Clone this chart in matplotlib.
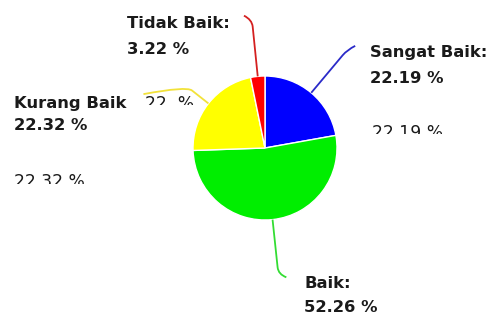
import numpy as np
import matplotlib
matplotlib.use("Agg")
import matplotlib.pyplot as plt
from matplotlib.path import Path
from matplotlib.patches import PathPatch
from matplotlib.transforms import Bbox, TransformedBbox

labels = ["Sangat Baik", "Baik", "Kurang Baik", "Tidak Baik"]
persen = [22.19, 52.26, 22.32, 3.22]
warna = ["#0000ff", "#00ee00", "#ffff00", "#ff0000"]
warna_garis = ["#2a2ac8", "#33dd33", "#f2e23a", "#d42020"]

W, H = 492, 317
cx, cy, r = 265, 148, 72   # pixel, y downward

fig = plt.figure(figsize=(W / 100, H / 100), dpi=100)
ax = fig.add_axes([0, 0, 1, 1])

wedges, _ = ax.pie(persen, colors=warna, startangle=90, counterclock=False,
                   center=(cx, H - cy), radius=r,
                   wedgeprops=dict(edgecolor="white", linewidth=1))
ax.set_xlim(0, W)
ax.set_ylim(0, H)
ax.set_aspect("auto")
ax.axis("off")


def py(y):
    return H - y


# connector: extension past the rim, then hook (dx, dy in pixels, y down)
garis = {
    "Sangat Baik": (56, (8, -4)),
    "Baik": (55, (8, 3)),
    "Kurang Baik": (28, (-43, 8)),
    "Tidak Baik": (57, (-8, -4)),
}

for w, lab, c in zip(wedges, labels, warna_garis):
    mid = np.deg2rad((w.theta1 + w.theta2) / 2)
    ux, uy = np.cos(mid), -np.sin(mid)
    ext, (hx, hy) = garis[lab]
    p0 = (cx + r * ux, cy + r * uy)
    el = (cx + (r + ext) * ux, cy + (r + ext) * uy)
    a = (el[0] - 7 * ux, el[1] - 7 * uy)
    end = (el[0] + hx, el[1] + hy)
    verts = [(p0[0], py(p0[1])), (a[0], py(a[1])), (el[0], py(el[1])), (end[0], py(end[1]))]
    codes = [Path.MOVETO, Path.LINETO, Path.CURVE3, Path.CURVE3]
    ax.add_patch(PathPatch(Path(verts, codes), fill=False, edgecolor=c, linewidth=1.3))

fs = 11.8
teks = [
    ("Tidak Baik:", 127, 28), ("3.22 %", 127, 54),
    ("Sangat Baik:", 370, 57), ("22.19 %", 370, 83),
    ("Kurang Baik", 14, 108), ("22.32 %", 14, 130),
    ("Baik:", 304, 288), ("52.26 %", 304, 312),
]
for s, x, y in teks:
    ax.text(x, py(y), s, fontsize=fs, fontweight="bold", color="#1a1a1a",
            ha="left", va="baseline")

# partially hidden duplicate labels
hantu = [
    ("22.19 %", 372, 138, 134),
    ("22  %", 145, 109, 105),
    ("22.32 %", 14, 187, 184),
]
for s, x, y, klip in hantu:
    t = ax.text(x, py(y), s, fontsize=fs + 0.5, color="#1a1a1a", ha="left", va="baseline")
    kotak = TransformedBbox(Bbox([[0, py(klip)], [W, H]]), ax.transData)
    t.set_clip_box(kotak)
    t.set_clip_on(True)

fig.savefig("out.png", dpi=100)
